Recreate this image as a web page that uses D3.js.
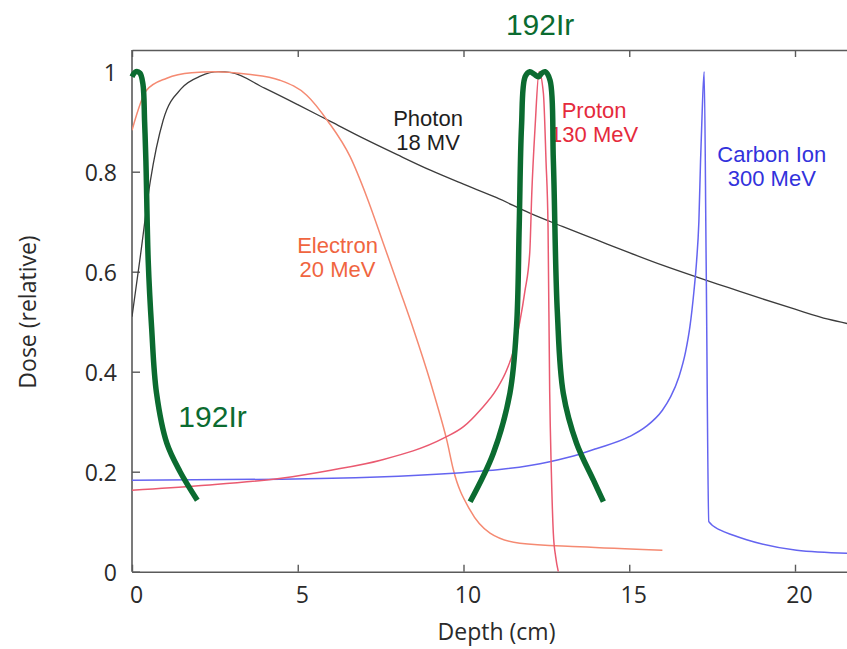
<!DOCTYPE html>
<html>
<head>
<meta charset="utf-8">
<script src="https://cdn.jsdelivr.net/npm/d3@7"></script>
<style>
  html, body { margin: 0; padding: 0; background: #fff; }
  svg { display: block; }
</style>
</head>
<body>
<svg id="chart"></svg>
<script>
// depth (cm), relative dose
const photon = [
  [0, 0.51], [0.25, 0.63], [0.55, 0.78], [0.94, 0.903], [1.5, 0.967], [2.06, 0.991],
  [2.6, 1.0], [3, 0.998], [4, 0.967], [5, 0.934], [6, 0.9], [7, 0.866], [8, 0.834],
  [9, 0.803], [10, 0.775], [11, 0.748], [12, 0.717], [13, 0.69], [14, 0.664],
  [15, 0.638], [16, 0.613], [17, 0.59], [18, 0.568], [19, 0.546], [20, 0.525],
  [21, 0.505], [21.6, 0.496]
];
const electron = [
  [0, 0.883], [0.44, 0.963], [1.05, 0.987], [1.8, 0.998], [2.5, 1.0], [3.5, 0.995],
  [4.46, 0.983], [5.27, 0.953], [5.92, 0.9], [6.58, 0.83], [7.08, 0.75],
  [7.58, 0.657], [8.08, 0.563], [8.49, 0.485], [9.0, 0.38], [9.19, 0.337],
  [9.5, 0.262], [9.69, 0.205], [10.2, 0.123], [10.8, 0.077], [11.7, 0.057],
  [13.5, 0.05], [16, 0.043]
];
const proton = [
  [0, 0.163], [2, 0.172], [4.5, 0.187], [6, 0.203], [7.5, 0.223], [9.4, 0.267],
  [10, 0.29], [10.5, 0.323], [11, 0.365], [11.3, 0.403], [11.5, 0.44], [11.7, 0.5],
  [11.85, 0.56], [12.0, 0.64], [12.06, 0.757], [12.16, 0.89], [12.28, 1.0],
  [12.41, 0.957], [12.49, 0.82], [12.55, 0.69], [12.6, 0.36], [12.65, 0.2],
  [12.71, 0.077], [12.78, 0.03], [12.86, 0]
];
const carbon = [
  [0, 0.183], [4.5, 0.185], [9.7, 0.197], [12.6, 0.22], [13.5, 0.235], [14, 0.246],
  [15, 0.27], [15.5, 0.29], [16, 0.323], [16.25, 0.35], [16.5, 0.39], [16.7, 0.44],
  [16.83, 0.49], [16.95, 0.56], [17.03, 0.62], [17.1, 0.7], [17.15, 0.82],
  [17.2, 0.92], [17.26, 1.0], [17.32, 0.62], [17.4, 0.1], [17.75, 0.083],
  [18.14, 0.073], [18.54, 0.064], [20.05, 0.043], [21.6, 0.037]
];
// hand-drawn 192Ir outlines
const irLeft = [
  [0, 0.99], [0.12, 1.0], [0.24, 0.997], [0.33, 0.975], [0.38, 0.9], [0.42, 0.82],
  [0.49, 0.62], [0.59, 0.49], [0.74, 0.357], [1.05, 0.257], [1.45, 0.2], [1.97, 0.143]
];
const irRight = [
  [10.2, 0.14], [10.9, 0.237], [11.4, 0.357], [11.6, 0.49], [11.68, 0.69],
  [11.75, 0.89], [11.86, 0.99], [12.0, 1.0], [12.13, 0.995], [12.26, 0.99],
  [12.36, 0.997], [12.46, 1.0], [12.61, 0.983], [12.71, 0.823], [12.83, 0.52],
  [13.01, 0.357], [13.41, 0.257], [13.92, 0.183], [14.22, 0.14]
];

const xTicks = [0, 5, 10, 15, 20];
const yTicks = [0, 0.2, 0.4, 0.6, 0.8, 1];

const W = 847, H = 649;
const margin = { top: 50, left: 132, bottom: 77 };
const Y0 = 571.7, Y1 = 71.7;

const svg = d3.select('#chart').attr('width', W).attr('height', H);

const x = d3.scaleLinear().domain([0, 22]).range([margin.left, margin.left + 22 * 33.15]);
const y = d3.scaleLinear().domain([0, 1]).range([Y0, Y1]);
const yTop = y.invert(margin.top);

const tickFont = '"Open Sans", sans-serif';
const labelFont = '"Liberation Sans", Arial, sans-serif';

svg.append('defs').append('clipPath').attr('id', 'plot')
  .append('rect')
  .attr('x', x(0)).attr('y', y(yTop))
  .attr('width', W - x(0)).attr('height', y(0) - y(yTop));

// axes, gnuplot style: inward ticks, mirrored on top
const styleAxis = (a) => {
  a.select('.domain').attr('stroke', '#5a5a5a').attr('stroke-width', 1.6);
  a.selectAll('.tick line').attr('stroke', '#5a5a5a').attr('stroke-width', 1.4);
  a.selectAll('text').attr('fill', '#2a2a2a').attr('font-family', tickFont).attr('font-size', 23);
};

svg.append('g')
  .attr('transform', `translate(0,${y(0)})`)
  .call(d3.axisBottom(x).tickValues(xTicks).tickSize(-7).tickSizeOuter(0).tickPadding(15))
  .call(styleAxis)
  .call((a) => a.selectAll('text').attr('dx', 4));

svg.append('g')
  .attr('transform', `translate(0,${y(yTop)})`)
  .call(d3.axisTop(x).tickValues(xTicks).tickSize(-7).tickSizeOuter(0).tickFormat(''))
  .call(styleAxis);

svg.append('g')
  .attr('transform', `translate(${x(0)},0)`)
  .call(d3.axisLeft(y).tickValues(yTicks).tickSize(-8).tickSizeOuter(0).tickPadding(15)
    .tickFormat((d) => (d === 0 || d === 1 ? d : d.toFixed(1))))
  .call(styleAxis)
  .call((a) => a.select('.domain').attr('d', `M0,${y(0)}V${y(yTop)}`))
  .call((a) => a.selectAll('text').attr('dy', '0.4em'));

svg.append('text')
  .attr('x', (x(0) + W) / 2 + 7)
  .attr('y', 640)
  .attr('text-anchor', 'middle')
  .attr('fill', '#2a2a2a')
  .attr('font-family', tickFont)
  .attr('font-size', 23)
  .text('Depth (cm)');

svg.append('text')
  .attr('transform', `translate(36,${312}) rotate(-90)`)
  .attr('text-anchor', 'middle')
  .attr('fill', '#2a2a2a')
  .attr('font-family', tickFont)
  .attr('font-size', 23)
  .text('Dose (relative)');

// dose curves
const line = d3.line().x((d) => x(d[0])).y((d) => y(d[1])).curve(d3.curveMonotoneX);
const curves = [
  { data: photon, color: '#3c3c3c', width: 1.3 },
  { data: electron, color: '#f58a72', width: 1.5 },
  { data: carbon, color: '#6464f0', width: 1.5 },
  { data: proton, color: '#ea5a70', width: 1.5 }
];
const plot = svg.append('g').attr('clip-path', 'url(#plot)');
plot.selectAll('path')
  .data(curves)
  .join('path')
  .attr('fill', 'none')
  .attr('stroke', (d) => d.color)
  .attr('stroke-width', (d) => d.width)
  .attr('stroke-linejoin', 'round')
  .attr('d', (d) => line(d.data));

// curve labels
const labels = [
  { lines: ['Photon', '18 MV'], at: [8.93, 0.891], color: '#1e1e1e' },
  { lines: ['Electron', '20 MeV'], at: [6.2, 0.637], color: '#f0653f' },
  { lines: ['Proton', '130 MeV'], at: [13.94, 0.907], color: '#e52a3c' },
  { lines: ['Carbon Ion', '300 MeV'], at: [19.3, 0.82], color: '#3232dc' }
];
labels.forEach((l) => {
  const t = svg.append('text')
    .attr('x', x(l.at[0]))
    .attr('y', y(l.at[1]))
    .attr('text-anchor', 'middle')
    .attr('fill', l.color)
    .attr('font-family', labelFont)
    .attr('font-size', 22);
  l.lines.forEach((s, i) => {
    t.append('tspan').attr('x', x(l.at[0])).attr('dy', i ? 24 : 0).text(s);
  });
});

// 192Ir annotations
const IR = '#0b6b30';
const smooth = d3.line().x((d) => x(d[0])).y((d) => y(d[1])).curve(d3.curveCatmullRom.alpha(0.5));
svg.selectAll('path.ir')
  .data([irLeft, irRight])
  .join('path')
  .attr('class', 'ir')
  .attr('fill', 'none')
  .attr('stroke', IR)
  .attr('stroke-width', 5.5)
  .attr('stroke-linejoin', 'round')
  .attr('d', smooth);

svg.append('text')
  .attr('x', x(12.31)).attr('y', y(1.073))
  .attr('text-anchor', 'middle')
  .attr('fill', IR)
  .attr('font-family', labelFont)
  .attr('font-size', 30)
  .text('192Ir');

svg.append('text')
  .attr('x', x(2.43)).attr('y', y(0.29))
  .attr('text-anchor', 'middle')
  .attr('fill', IR)
  .attr('font-family', labelFont)
  .attr('font-size', 30)
  .text('192Ir');
</script>
</body>
</html>
